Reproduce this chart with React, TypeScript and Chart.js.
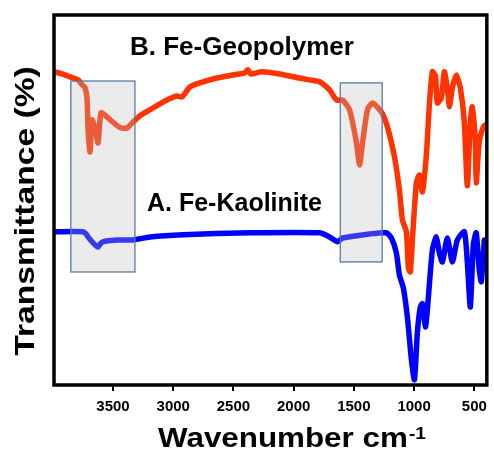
import React, { useEffect, useRef } from "react";
import { Chart, registerables } from "chart.js";

Chart.register(...registerables);

// B. Fe-Geopolymer (red)
const geoWavenumber = [3989, 3923, 3856, 3790, 3757, 3732, 3715, 3707, 3691, 3674, 3649, 3624, 3599, 3541, 3483, 3434, 3384, 3334, 3276, 3193, 3052, 2970, 2928, 2862, 2779, 2638, 2506, 2406, 2381, 2356, 2265, 2116, 1950, 1867, 1785, 1702, 1644, 1594, 1536, 1478, 1453, 1428, 1387, 1345, 1271, 1221, 1163, 1122, 1097, 1064, 1047, 1031, 1014, 981, 956, 931, 898, 873, 848, 823, 807, 774, 749, 724, 707, 682, 649, 616, 583, 558, 533, 517, 492, 484, 459, 425, 409];
const geoTransmittance = [84.5, 83.9, 83.1, 82.3, 81.0, 80.2, 76.9, 68.9, 63.0, 71.6, 69.4, 65.4, 73.5, 72.1, 70.5, 69.4, 69.4, 71.0, 72.7, 74.3, 76.9, 78.0, 77.7, 80.4, 81.5, 82.8, 83.6, 84.2, 85.0, 83.9, 84.5, 83.9, 82.8, 82.3, 81.8, 79.6, 76.9, 76.9, 74.3, 65.4, 59.5, 65.4, 74.3, 76.1, 73.7, 69.7, 61.7, 52.8, 44.8, 41.6, 31.9, 30.8, 39.4, 54.7, 56.8, 52.3, 62.2, 75.6, 84.5, 83.4, 76.1, 77.5, 84.5, 80.2, 75.1, 80.2, 83.6, 80.2, 71.0, 53.9, 71.0, 75.1, 66.8, 54.7, 65.7, 69.7, 70.2];

// A. Fe-Kaolinite (blue)
const kaoWavenumber = [3989, 3749, 3724, 3707, 3674, 3649, 3624, 3599, 3558, 3467, 3334, 3193, 2920, 2365, 1785, 1702, 1635, 1594, 1370, 1229, 1188, 1147, 1122, 1089, 1056, 1022, 997, 973, 948, 931, 906, 890, 848, 815, 790, 765, 724, 682, 641, 583, 558, 533, 508, 484, 459, 442, 417];
const kaoTransmittance = [41.6, 41.6, 41.0, 40.2, 38.9, 38.1, 37.5, 38.6, 39.1, 39.4, 39.4, 40.2, 40.8, 41.3, 41.3, 40.2, 38.9, 39.9, 41.0, 41.3, 39.9, 35.9, 30.0, 26.5, 18.8, 7.2, 1.9, 14.5, 21.4, 22.3, 16.1, 20.6, 36.7, 40.2, 35.9, 33.5, 39.9, 33.5, 39.4, 41.6, 33.5, 21.4, 38.1, 41.3, 31.4, 28.2, 39.4];

const xTickValues = [3500, 3000, 2500, 2000, 1500, 1000, 500];

// highlighted regions (wavenumber range, transmittance range)
const boxFrom = [3850, 1613];
const boxTo = [3318, 1265];
const boxTop = [82.0, 81.5];
const boxBottom = [30.8, 33.5];

const seriesLabels = ["B. Fe-Geopolymer", "A. Fe-Kaolinite"];
const labelWavenumber = [3359, 3218];
const labelTransmittance = [89.0, 47.2];
const labelSizes = [26, 25];

const xTitle = "Wavenumber cm";
const xTitleSup = "-1";
const yTitle = "Transmittance (%)";

const FONT = "Arial, 'Liberation Sans', sans-serif";

const decor = {
  id: "decor",
  afterDatasetsDraw(chart: any) {
    const { ctx, scales } = chart;
    const x = scales.x;
    const y = scales.y;
    ctx.save();
    for (let i = 0; i < boxFrom.length; i++) {
      const x1 = x.getPixelForValue(boxFrom[i]);
      const x2 = x.getPixelForValue(boxTo[i]);
      const y1 = y.getPixelForValue(boxTop[i]);
      const y2 = y.getPixelForValue(boxBottom[i]);
      ctx.fillStyle = "rgba(188,188,188,0.3)";
      ctx.fillRect(x1, y1, x2 - x1, y2 - y1);
      ctx.strokeStyle = "#5a7aa2";
      ctx.lineWidth = 1.3;
      ctx.strokeRect(x1, y1, x2 - x1, y2 - y1);
    }
    ctx.restore();
  },
  afterDraw(chart: any) {
    const { ctx, chartArea, scales } = chart;
    const x = scales.x;
    const y = scales.y;
    ctx.save();
    // frame
    ctx.strokeStyle = "#000";
    ctx.lineWidth = 3.5;
    ctx.strokeRect(chartArea.left, chartArea.top, chartArea.right - chartArea.left, chartArea.bottom - chartArea.top);

    // series labels
    ctx.fillStyle = "#000";
    ctx.textAlign = "left";
    ctx.textBaseline = "alphabetic";
    for (let i = 0; i < seriesLabels.length; i++) {
      ctx.font = `bold ${labelSizes[i]}px ${FONT}`;
      ctx.fillText(seriesLabels[i], x.getPixelForValue(labelWavenumber[i]), y.getPixelForValue(labelTransmittance[i]));
    }

    // y title
    ctx.save();
    ctx.translate(26.5, 211);
    ctx.rotate(-Math.PI / 2);
    ctx.scale(1.2, 1);
    ctx.font = `bold 28px ${FONT}`;
    ctx.textAlign = "center";
    ctx.textBaseline = "middle";
    ctx.fillText(yTitle, 0, 0);
    ctx.restore();

    // x title
    ctx.save();
    ctx.translate(158, 447);
    ctx.scale(1.12, 1);
    ctx.font = `bold 28px ${FONT}`;
    ctx.textAlign = "left";
    ctx.textBaseline = "alphabetic";
    ctx.fillText(xTitle, 0, 0);
    const w = ctx.measureText(xTitle).width;
    ctx.font = `bold 17px ${FONT}`;
    ctx.fillText(xTitleSup, w + 1, -8);
    ctx.restore();

    ctx.restore();
  },
};

export default function App() {
  const ref = useRef<HTMLCanvasElement>(null);
  useEffect(() => {
    const chart = new Chart(ref.current as HTMLCanvasElement, {
      type: "line",
      data: {
        datasets: [
          {
            label: seriesLabels[0],
            data: geoWavenumber.map((w, i) => ({ x: w, y: geoTransmittance[i] })),
            borderColor: "#ff3300",
            borderWidth: 5.5,
            pointRadius: 0,
            tension: 0.2,
            borderJoinStyle: "round",
            borderCapStyle: "round",
            fill: false,
          },
          {
            label: seriesLabels[1],
            data: kaoWavenumber.map((w, i) => ({ x: w, y: kaoTransmittance[i] })),
            borderColor: "#0000ff",
            borderWidth: 5.5,
            pointRadius: 0,
            tension: 0.2,
            borderJoinStyle: "round",
            borderCapStyle: "round",
            fill: false,
          },
        ],
      },
      options: {
        responsive: false,
        animation: false,
        layout: { padding: { left: 54, top: 15, right: 6.5, bottom: 0 } },
        plugins: { legend: { display: false }, tooltip: { enabled: false } },
        scales: {
          x: {
            type: "linear",
            reverse: true,
            min: 396,
            max: 3990,
            afterBuildTicks: (scale: any) => {
              scale.ticks = xTickValues.map((v) => ({ value: v }));
            },
            afterFit: (scale: any) => {
              scale.height = 65;
            },
            border: { display: false },
            grid: {
              display: true,
              drawOnChartArea: false,
              drawTicks: true,
              tickLength: 6,
              lineWidth: 2,
              color: "#000",
            },
            ticks: {
              color: "#000",
              font: { family: FONT, size: 15, weight: "bold" },
              padding: 7,
              maxRotation: 0,
              autoSkip: false,
              callback: (v: any) => String(v),
            },
          },
          y: {
            display: false,
            min: 0.5,
            max: 99.7,
          },
        },
      },
      plugins: [decor],
    } as any);
    return () => chart.destroy();
  }, []);
  return (
    <div style={{ position: "fixed", left: 0, top: 0, width: 494, height: 450, background: "#fff" }}>
      <canvas ref={ref} width={494} height={450} style={{ display: "block" }} />
    </div>
  );
}
